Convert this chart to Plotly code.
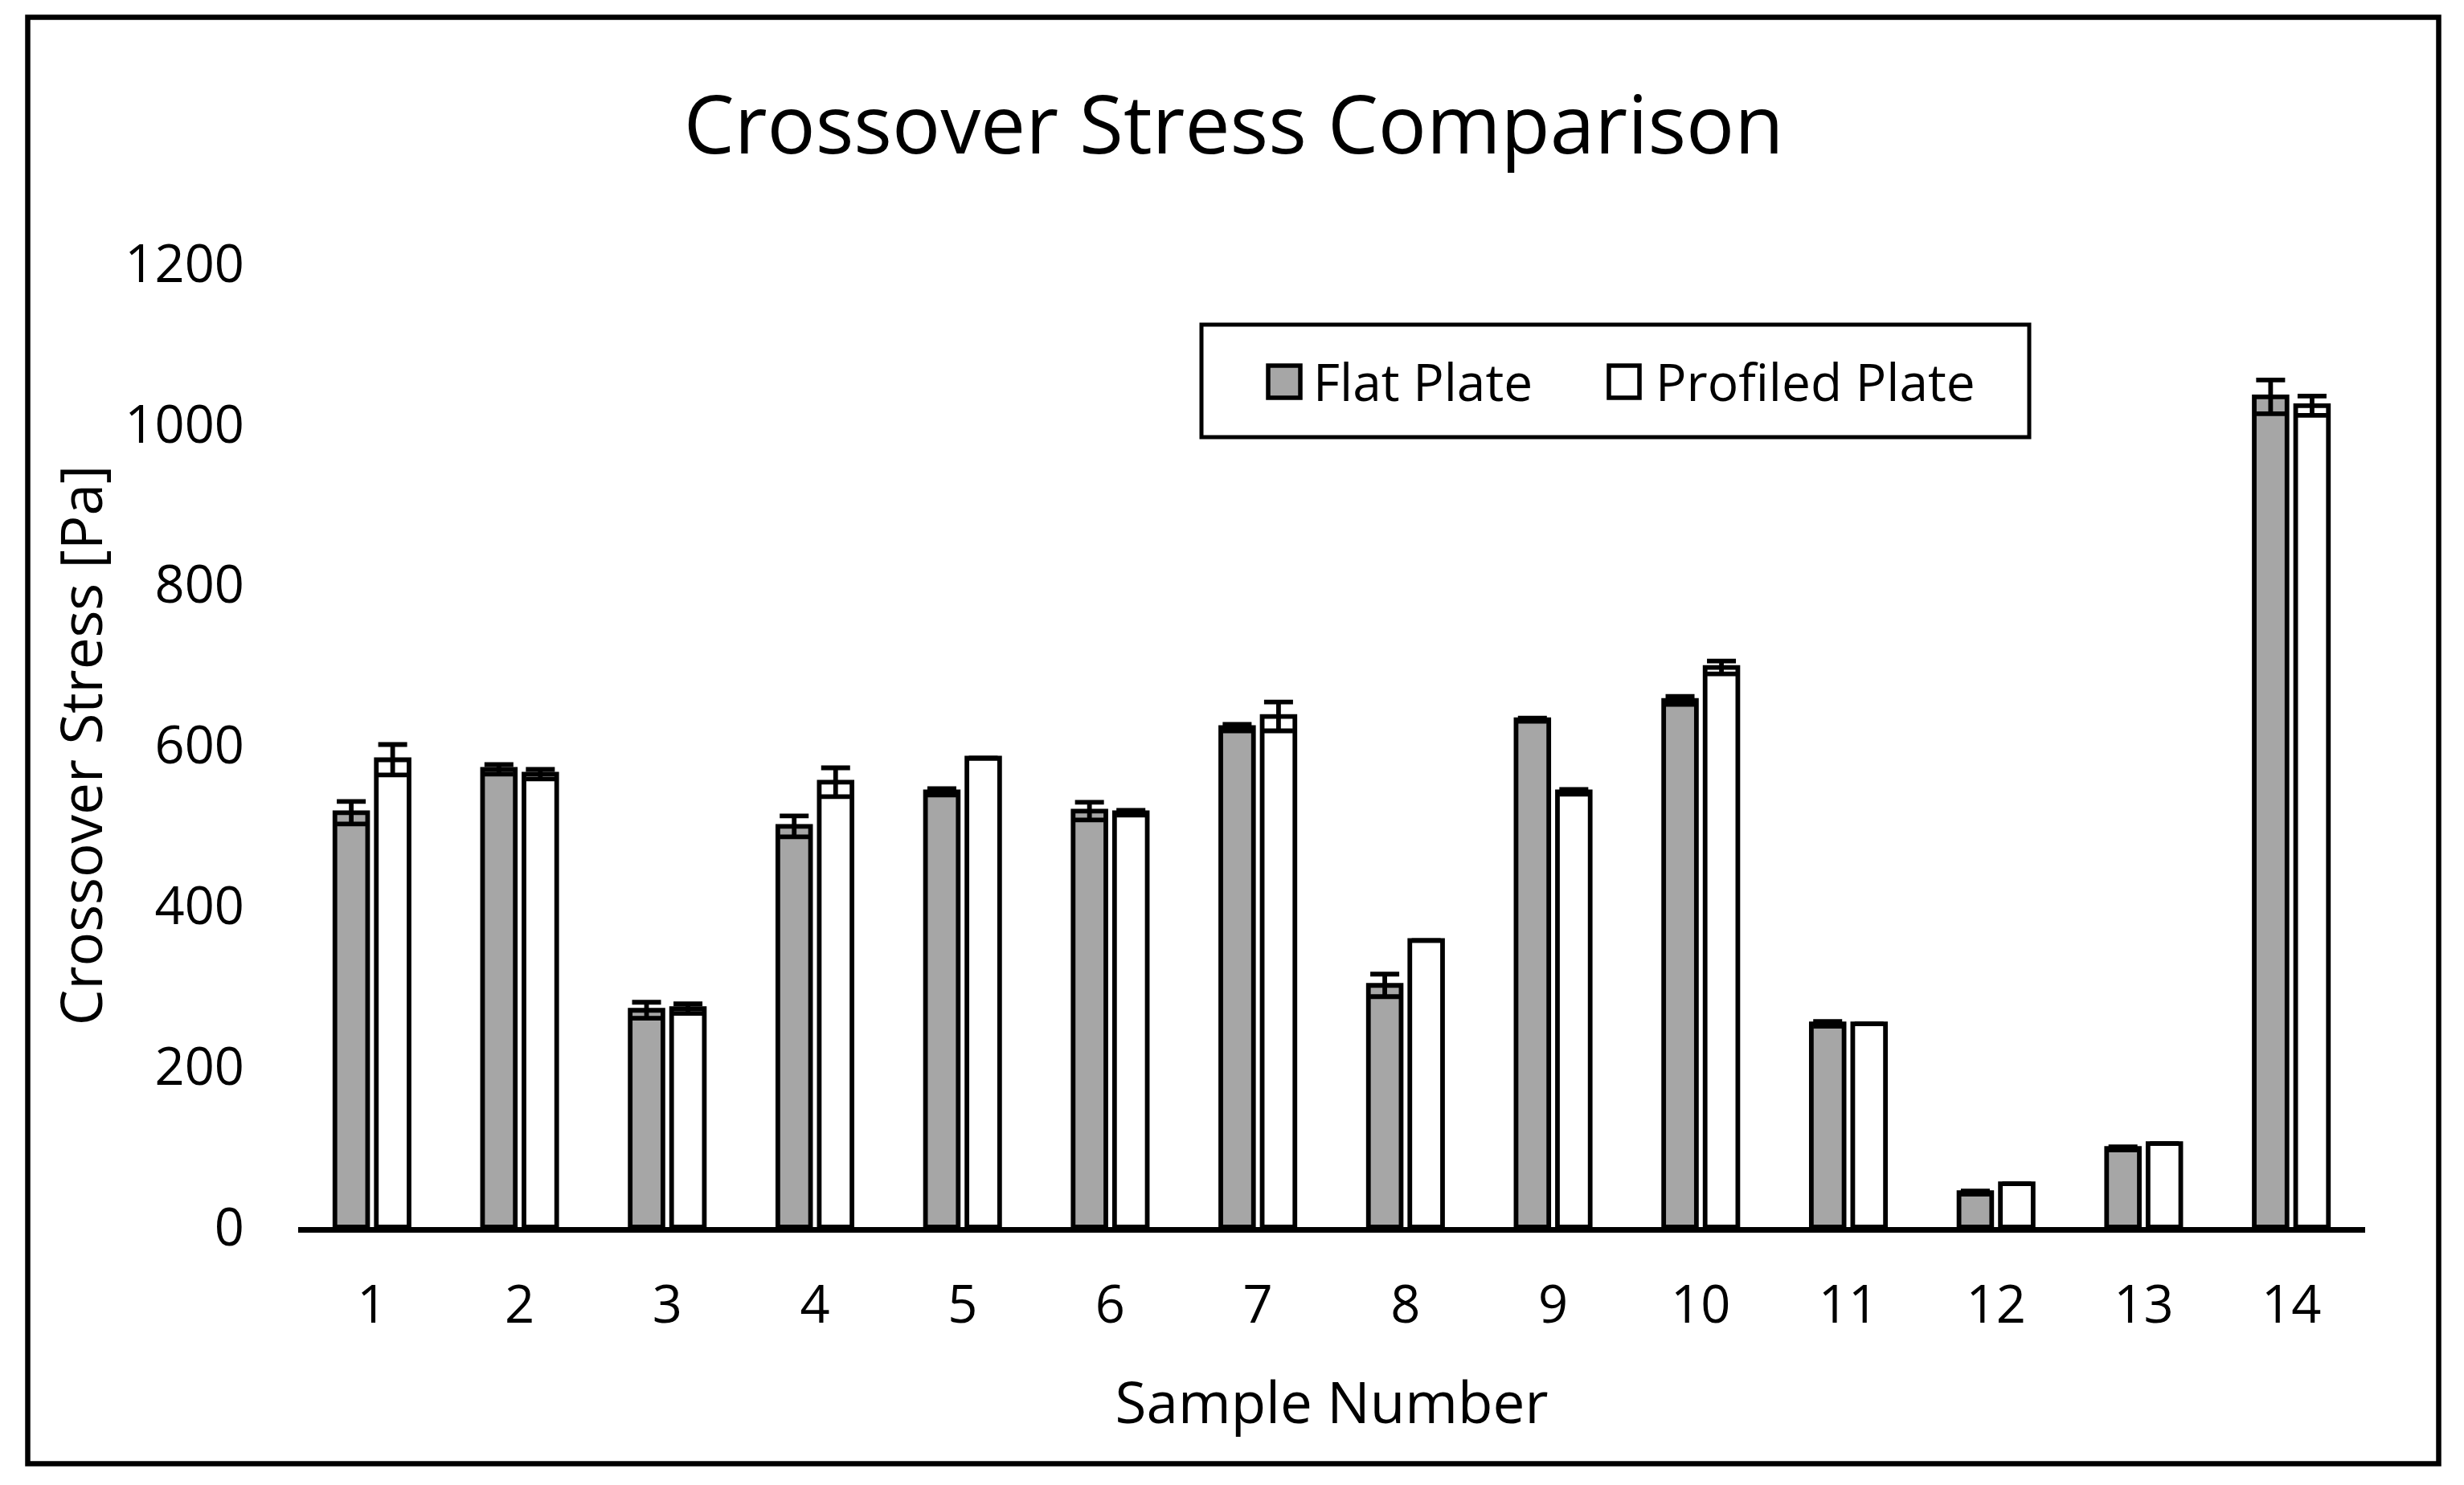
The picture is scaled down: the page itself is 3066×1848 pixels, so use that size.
import plotly.graph_objects as go

# ---------------- data ----------------
samples = ["1", "2", "3", "4", "5", "6", "7", "8", "9", "10", "11", "12", "13", "14"]
series_names = ["Flat Plate", "Profiled Plate"]
flat_values = [516, 570, 270, 499, 542, 518, 622, 301, 632, 656, 253, 43, 98, 1034]
flat_errors = [14, 6, 10, 13, 4, 11, 4, 14, 2, 5, 3, 2, 2, 21]
profiled_values = [582, 564, 272, 554, 584, 516, 636, 357, 542, 697, 253, 54, 104, 1023]
profiled_errors = [19, 6, 6, 18, 0, 3, 18, 0, 3, 8, 0, 0, 0, 12]
y_ticks = [0, 200, 400, 600, 800, 1000, 1200]

# ---------------- layout geometry (pixels) ----------------
W, H = 3066, 1848
ML, MR, MT, MB = 371, 123, 328, 321
PW, PH = W - ML - MR, H - MT - MB
FONT = "Open Sans"
GRAY = "#A6A6A6"


def px_x(px):
    return (px - ML) / PW


def px_y(py):
    return (H - MB - py) / PH


fig = go.Figure()
fig.add_trace(go.Bar(
    name=series_names[0], x=samples, y=flat_values,
    marker=dict(color=GRAY, line=dict(color="black", width=5.8)),
    error_y=dict(type="data", array=flat_errors, visible=True,
                 color="black", thickness=5.8, width=18),
    showlegend=False,
))
fig.add_trace(go.Bar(
    name=series_names[1], x=samples, y=profiled_values,
    marker=dict(color="white", line=dict(color="black", width=5.8)),
    error_y=dict(type="data", array=profiled_errors, visible=True,
                 color="black", thickness=5.8, width=18),
    showlegend=False,
))

shapes = [
    # outer chart border
    dict(type="rect", xref="paper", yref="paper",
         x0=px_x(34.5), x1=px_x(3034.5), y0=px_y(1821.5), y1=px_y(21.5),
         line=dict(color="black", width=6.5), fillcolor="rgba(0,0,0,0)"),
    # legend box
    dict(type="rect", xref="paper", yref="paper",
         x0=px_x(1495), x1=px_x(2525), y0=px_y(544), y1=px_y(404),
         line=dict(color="black", width=5), fillcolor="white"),
    # legend symbols
    dict(type="rect", xref="paper", yref="paper",
         x0=px_x(1578), x1=px_x(1618), y0=px_y(495), y1=px_y(455),
         line=dict(color="black", width=5.5), fillcolor=GRAY),
    dict(type="rect", xref="paper", yref="paper",
         x0=px_x(2002), x1=px_x(2040), y0=px_y(495), y1=px_y(455),
         line=dict(color="black", width=5.5), fillcolor="white"),
]

annotations = [
    dict(text=series_names[0], xref="paper", yref="paper", x=px_x(1632), y=px_y(475),
         xanchor="left", yanchor="middle", showarrow=False,
         font=dict(family=FONT, size=64, color="black")),
    dict(text=series_names[1], xref="paper", yref="paper", x=px_x(2058), y=px_y(475),
         xanchor="left", yanchor="middle", showarrow=False,
         font=dict(family=FONT, size=64, color="black")),
]

fig.update_layout(
    width=W, height=H,
    margin=dict(l=ML, r=MR, t=MT, b=MB, pad=0),
    paper_bgcolor="white", plot_bgcolor="white",
    font=dict(family=FONT, color="black"),
    barmode="group", bargap=0.439, bargroupgap=0.21,
    title=dict(text="Crossover Stress Comparison", x=0.5007, xref="container",
               xanchor="center", y=1 - 156 / H, yref="container", yanchor="middle",
               font=dict(family=FONT, size=100, color="black")),
    xaxis=dict(type="category", categoryorder="array", categoryarray=samples,
               range=[-0.5, len(samples) - 0.5],
               showline=True, linecolor="black", linewidth=7,
               showgrid=False, zeroline=False, ticks="",
               tickfont=dict(family=FONT, size=65, color="black"),
               ticklabelstandoff=34,
               title=dict(text="Sample Number", standoff=60,
                          font=dict(family=FONT, size=71, color="black"))),
    yaxis=dict(range=[0, 1200], tickvals=y_ticks, ticktext=[str(v) for v in y_ticks],
               showline=False, showgrid=False, zeroline=False, ticks="",
               tickfont=dict(family=FONT, size=65, color="black"),
               ticklabelstandoff=66,
               title=dict(text="Crossover Stress [Pa]", standoff=4,
                          font=dict(family=FONT, size=71, color="black"))),
    shapes=shapes,
    annotations=annotations,
)

fig.write_html(
    "out.html",
    config={"displayModeBar": False},
    post_script="document.body.style.margin='0';document.body.style.overflow='hidden';",
)
